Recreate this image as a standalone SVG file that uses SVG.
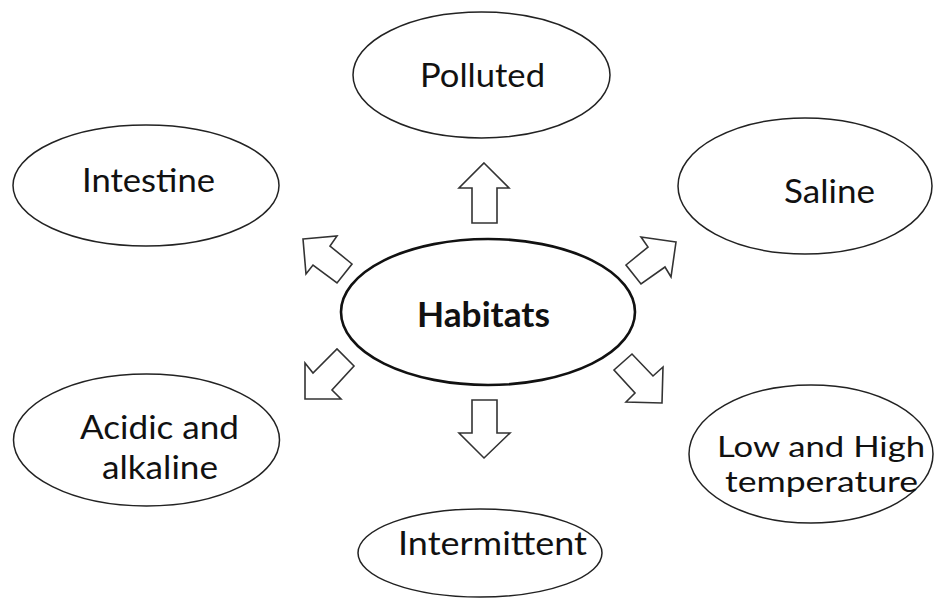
<svg xmlns="http://www.w3.org/2000/svg" width="934" height="599" viewBox="0 0 934 599">
<style>
.node ellipse{fill:#fff;stroke:#222;stroke-width:1.5}
#habitats ellipse{stroke:#111;stroke-width:2.6}
text{font-family:Lato,"Open Sans","Liberation Sans",sans-serif;font-size:33px;fill:#111;text-anchor:middle}
#habitats text{font-weight:bold;font-size:34px}
#temperature text{font-size:29px}
.arrow{fill:#fff;stroke:#333;stroke-width:1.6;stroke-linejoin:miter}
</style>
<rect width="934" height="599" fill="#fff"/>
<g id="connectors">
<polygon class="arrow" points="484,163 509,188 497,188 497,223 472,223 472,188 459,188"/>
<polygon class="arrow" points="484,458 510,433 497,433 497,400 472,400 472,433 459,433"/>
<polygon class="arrow" points="303,239 337,236 330,246 352,264 337,283 313,265 306,274"/>
<polygon class="arrow" points="305,399 305,363 313,373 337,349 354,366 332,390 341,399"/>
<polygon class="arrow" points="676,242 641,237 648,247 626,265 641,284 665,267 671,277"/>
<polygon class="arrow" points="662,403 663,367 653,376 632,354 614,370 635,393 626,402"/>
</g>
<g id="habitats" class="node">
<ellipse cx="488" cy="312" rx="147" ry="73"/>
<text x="483.5" y="327" textLength="133" lengthAdjust="spacingAndGlyphs">Habitats</text>
</g>
<g id="polluted" class="node">
<ellipse cx="481.5" cy="75" rx="128.5" ry="63"/>
<text x="482.5" y="87" textLength="125" lengthAdjust="spacingAndGlyphs">Polluted</text>
</g>
<g id="intestine" class="node">
<ellipse cx="146" cy="185.5" rx="133" ry="60.5"/>
<text x="148.5" y="192" textLength="133" lengthAdjust="spacingAndGlyphs">Intestine</text>
</g>
<g id="saline" class="node">
<ellipse cx="805" cy="186" rx="127" ry="68"/>
<text x="829.5" y="203" textLength="91" lengthAdjust="spacingAndGlyphs">Saline</text>
</g>
<g id="acidic" class="node">
<ellipse cx="146.5" cy="440" rx="133" ry="66"/>
<text><tspan x="159.5" y="439" textLength="159" lengthAdjust="spacingAndGlyphs">Acidic and</tspan><tspan x="160" y="479" textLength="116" lengthAdjust="spacingAndGlyphs">alkaline</tspan></text>
</g>
<g id="temperature" class="node">
<ellipse cx="811" cy="454" rx="122" ry="69"/>
<text><tspan x="821" y="457" textLength="208" lengthAdjust="spacingAndGlyphs">Low and High</tspan><tspan x="821.5" y="492" textLength="193" lengthAdjust="spacingAndGlyphs">temperature</tspan></text>
</g>
<g id="intermittent" class="node">
<ellipse cx="480" cy="553" rx="122" ry="44"/>
<text x="492.5" y="555" textLength="189" lengthAdjust="spacingAndGlyphs">Intermittent</text>
</g>
</svg>
